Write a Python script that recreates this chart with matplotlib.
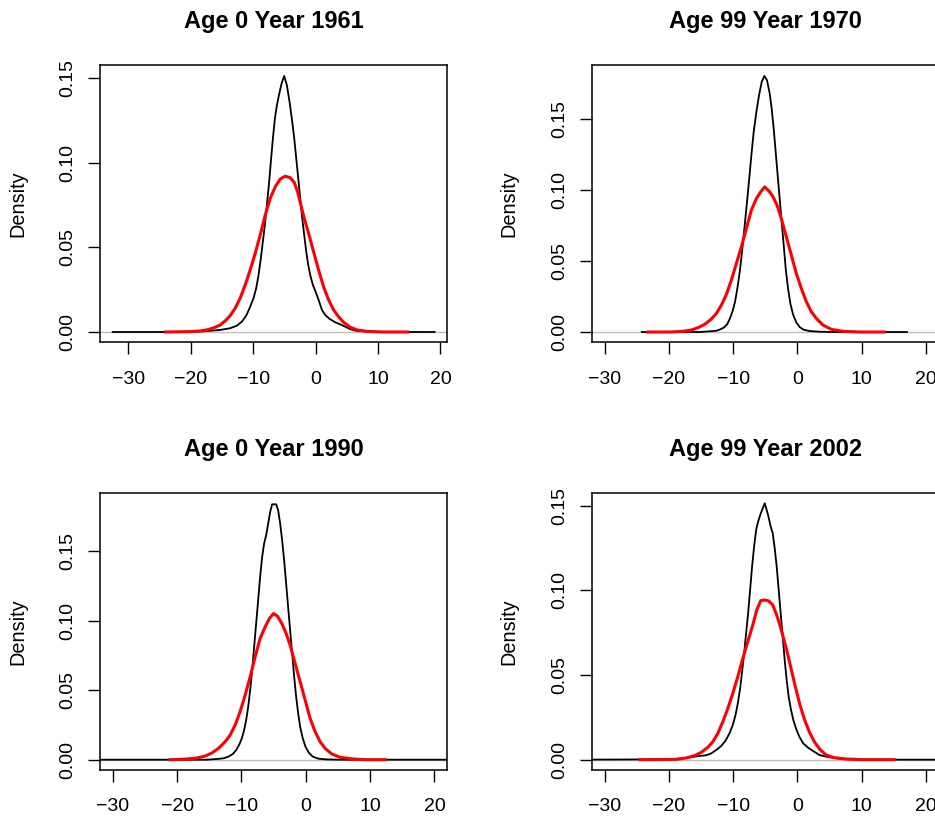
import matplotlib
matplotlib.use("Agg")
import matplotlib.pyplot as plt

plt.rcParams['font.family'] = ['Liberation Sans', 'DejaVu Sans']

titles = ["Age 0 Year 1961", "Age 99 Year 1970", "Age 0 Year 1990", "Age 99 Year 2002"]
x_ticks = [-30, -20, -10, 0, 10, 20]
x_tick_labels = ["\u221230", "\u221220", "\u221210", "0", "10", "20"]
y_ticks = [0.00, 0.05, 0.10, 0.15]
y_tick_labels = ["0.00", "0.05", "0.10", "0.15"]

# Panel 1: Age 0 Year 1961
p1_black_x = [-32.5, -22, -17.97, -15.29, -13.69, -12.62, -11.82, -11.12, -10.48, -9.95, -9.52, -9.14, -8.77,
              -8.45, -8.13, -7.81, -7.49, -7.17, -6.84, -6.52, -6.20, -5.88, -5.45, -5.03, -4.60, -4.17, -3.74,
              -3.42, -3.10, -2.78, -2.46, -2.14, -1.82, -1.50, -1.18, -0.86, -0.43, 0.0, 0.48, 1.02, 1.55, 2.25,
              3.16, 3.96, 4.76, 5.56, 6.63, 8.77, 12.0, 19.07]
p1_black_y = [0, 0, 0.0004, 0.0012, 0.0022, 0.0037, 0.0061, 0.0096, 0.0149, 0.0199, 0.0258, 0.0336, 0.0435,
              0.0533, 0.0631, 0.0749, 0.0867, 0.1005, 0.1143, 0.1261, 0.1339, 0.1398, 0.1467, 0.1512, 0.1457,
              0.1359, 0.1241, 0.1143, 0.1025, 0.0907, 0.0789, 0.0671, 0.0572, 0.0474, 0.0395, 0.0336, 0.0277,
              0.0238, 0.0189, 0.0130, 0.0100, 0.0077, 0.0057, 0.0045, 0.0031, 0.0016, 0.0006, 0.0002, 0, 0]
p1_red_x = [-24.0, -20.1, -18.5, -17.43, -16.36, -15.29, -14.49, -13.69, -12.89, -12.09, -11.28, -10.48, -9.68,
            -8.88, -8.07, -7.27, -6.47, -5.67, -4.87, -4.06, -3.42, -2.89, -2.35, -1.82, -1.12, -0.32, 0.48,
            1.28, 2.09, 2.89, 3.69, 4.49, 5.56, 6.63, 8.24, 10.37, 14.74]
p1_red_y = [0, 0.0002, 0.0006, 0.0012, 0.0024, 0.0041, 0.0065, 0.0096, 0.0140, 0.0199, 0.0277, 0.0366, 0.0464,
            0.0572, 0.0690, 0.0789, 0.0857, 0.0903, 0.0920, 0.0911, 0.0883, 0.0828, 0.0749, 0.0671, 0.0582,
            0.0474, 0.0366, 0.0267, 0.0189, 0.0130, 0.0090, 0.0057, 0.0028, 0.0012, 0.0004, 0, 0]

# Panel 2: Age 99 Year 1970
p2_black_x = [-24.2, -15.18, -13.63, -12.59, -11.97, -11.45, -10.93, -10.52, -10.10, -9.69, -9.33, -8.96,
              -8.60, -8.24, -7.88, -7.51, -7.15, -6.79, -6.37, -5.96, -5.54, -5.13, -4.72, -4.30, -3.99, -3.68,
              -3.37, -3.06, -2.75, -2.44, -2.12, -1.81, -1.45, -1.09, -0.67, -0.16, 0.36, 0.98, 1.92, 3.47,
              5.54, 17.05]
p2_black_y = [0, 0, 0.0005, 0.0009, 0.0019, 0.0031, 0.0054, 0.0092, 0.0143, 0.0214, 0.0308, 0.0425, 0.0566,
              0.0730, 0.0894, 0.1070, 0.1246, 0.1411, 0.1552, 0.1669, 0.1763, 0.1805, 0.1775, 0.1681, 0.1575,
              0.1434, 0.1270, 0.1106, 0.0941, 0.0777, 0.0613, 0.0448, 0.0308, 0.0202, 0.0124, 0.0068, 0.0035,
              0.0016, 0.0007, 0.0002, 0, 0]
p2_red_x = [-23.26, -19.84, -17.77, -16.48, -15.44, -14.40, -13.37, -12.59, -11.81, -11.04, -10.26, -9.48,
            -8.70, -7.93, -7.15, -6.37, -5.70, -5.08, -4.40, -3.78, -3.16, -2.49, -1.71, -0.93, -0.16, 0.62,
            1.40, 2.18, 2.95, 3.99, 5.28, 7.10, 9.69, 13.49]
p2_red_y = [0, 0, 0.0005, 0.0014, 0.0031, 0.0054, 0.0092, 0.0131, 0.0190, 0.0265, 0.0366, 0.0484, 0.0601,
            0.0730, 0.0859, 0.0941, 0.0988, 0.1023, 0.0993, 0.0953, 0.0894, 0.0800, 0.0671, 0.0542, 0.0413,
            0.0308, 0.0214, 0.0143, 0.0096, 0.0049, 0.0019, 0.0005, 0, 0]

# Panel 3: Age 0 Year 1990
p3_black_x = [-34, -15.39, -13.83, -12.80, -12.02, -11.35, -10.83, -10.31, -9.95, -9.59, -9.27, -8.96, -8.65,
              -8.34, -8.03, -7.72, -7.41, -7.10, -6.79, -6.48, -6.17, -5.85, -5.54, -5.23, -4.61, -4.30, -3.99,
              -3.68, -3.37, -3.06, -2.75, -2.44, -2.12, -1.81, -1.50, -1.19, -0.88, -0.47, -0.05, 0.47, 1.09,
              1.97, 3.26, 5.34, 24]
p3_black_y = [0, 0, 0.0005, 0.0010, 0.0022, 0.0041, 0.0069, 0.0112, 0.0153, 0.0213, 0.0285, 0.0380, 0.0500,
              0.0644, 0.0811, 0.0979, 0.1146, 0.1314, 0.1457, 0.1553, 0.1613, 0.1697, 0.1780, 0.1835, 0.1835,
              0.1792, 0.1697, 0.1577, 0.1433, 0.1266, 0.1098, 0.0931, 0.0763, 0.0596, 0.0452, 0.0333, 0.0237,
              0.0153, 0.0093, 0.0050, 0.0022, 0.0007, 0.0002, 0, 0]
p3_red_x = [-21.1, -20.57, -18.50, -16.94, -15.65, -14.61, -13.58, -12.54, -11.76, -10.98, -10.21, -9.43,
            -8.65, -7.88, -7.10, -6.32, -5.65, -5.03, -4.40, -3.73, -3.06, -2.44, -1.66, -0.88, -0.10, 0.67,
            1.45, 2.23, 3.01, 4.04, 5.34, 7.41, 9.48, 12.33]
p3_red_y = [0, 0, 0.0005, 0.0012, 0.0026, 0.0048, 0.0081, 0.0129, 0.0177, 0.0249, 0.0345, 0.0464, 0.0596,
            0.0739, 0.0871, 0.0955, 0.1015, 0.1050, 0.1031, 0.0979, 0.0907, 0.0823, 0.0692, 0.0560, 0.0428,
            0.0297, 0.0201, 0.0129, 0.0081, 0.0041, 0.0017, 0.0005, 0, 0]

# Panel 4: Age 99 Year 2002
p4_black_x = [-34, -19.87, -17.80, -16.24, -15.21, -14.17, -13.40, -12.62, -11.85, -11.17, -10.55, -10.04,
              -9.62, -9.26, -8.90, -8.59, -8.28, -7.97, -7.66, -7.35, -7.04, -6.73, -6.41, -6.10, -5.69, -5.07,
              -4.55, -4.14, -3.83, -3.52, -3.21, -2.90, -2.59, -2.28, -1.97, -1.66, -1.35, -0.98, -0.62, -0.21,
              0.31, 0.93, 1.60, 2.38, 3.41, 4.45, 6.05, 8.07, 10.14, 24]
p4_black_y = [0, 0.0002, 0.0008, 0.0016, 0.0022, 0.0026, 0.0037, 0.0057, 0.0081, 0.0112, 0.0156, 0.0205,
              0.0264, 0.0333, 0.0421, 0.0520, 0.0628, 0.0746, 0.0864, 0.1002, 0.1140, 0.1258, 0.1357, 0.1406,
              0.1455, 0.1514, 0.1445, 0.1376, 0.1337, 0.1248, 0.1140, 0.1002, 0.0864, 0.0727, 0.0589, 0.0471,
              0.0372, 0.0293, 0.0234, 0.0185, 0.0136, 0.0096, 0.0073, 0.0053, 0.0028, 0.0018, 0.0008, 0.0002,
              0, 0]
p4_red_x = [-24.5, -18.83, -17.28, -15.99, -14.95, -13.92, -13.14, -12.36, -11.59, -10.81, -10.04, -9.26,
            -8.48, -7.71, -6.93, -6.31, -5.69, -5.07, -4.45, -3.83, -3.31, -2.79, -2.28, -1.66, -0.98, -0.31,
            0.41, 1.14, 1.86, 2.64, 3.52, 4.45, 5.74, 7.55, 10.14, 15.05]
p4_red_y = [0, 0.0002, 0.0010, 0.0024, 0.0043, 0.0073, 0.0106, 0.0156, 0.0224, 0.0303, 0.0392, 0.0490,
            0.0599, 0.0697, 0.0795, 0.0884, 0.0939, 0.0943, 0.0937, 0.0914, 0.0864, 0.0805, 0.0736, 0.0648,
            0.0539, 0.0431, 0.0323, 0.0234, 0.0165, 0.0106, 0.0061, 0.0028, 0.0012, 0.0004, 0, 0]

x_limits = [(-34.54, 21.1), (-32, 22), (-32, 22), (-32, 22)]
y_limits = [(-0.0061, 0.1575), (-0.00725, 0.188), (-0.0074, 0.1914), (-0.0061, 0.1573)]

panels = [
    (p1_black_x, p1_black_y, p1_red_x, p1_red_y),
    (p2_black_x, p2_black_y, p2_red_x, p2_red_y),
    (p3_black_x, p3_black_y, p3_red_x, p3_red_y),
    (p4_black_x, p4_black_y, p4_red_x, p4_red_y),
]

W, H = 935, 817
fig = plt.figure(figsize=(W / 100, H / 100), dpi=100)

# axes boxes in pixels: left, top, right, bottom
boxes = [(100, 65.3, 447.3, 342.3), (591.7, 65.3, 938.7, 342.3),
         (100, 493.3, 447.3, 770), (591.7, 493.3, 938.7, 770)]

for i, (bx, by, rx, ry) in enumerate(panels):
    l, t, r, b = boxes[i]
    ax = fig.add_axes([l / W, 1 - b / H, (r - l) / W, (b - t) / H])
    ax.axhline(0, color="#BEBEBE", lw=1.0, zorder=1)
    ax.plot(bx, by, color="black", lw=1.3, zorder=2, solid_joinstyle="round")
    ax.plot(rx, ry, color="#FF0000", lw=2.2, zorder=3, solid_joinstyle="round")
    ax.set_xlim(*x_limits[i])
    ax.set_ylim(*y_limits[i])
    ax.set_xticks(x_ticks)
    ax.set_xticklabels(x_tick_labels)
    ax.set_yticks(y_ticks)
    ax.set_yticklabels(y_tick_labels, rotation=90, va="center")
    ax.tick_params(axis="both", direction="out", length=8.4, width=1.0, labelsize=14, color="black")
    ax.tick_params(axis="x", pad=12)
    ax.tick_params(axis="y", pad=8.5)
    for s in ax.spines.values():
        s.set_linewidth(1.1)
        s.set_color("black")
    ax.set_title(titles[i], fontsize=17, fontweight="bold", pad=27)
    ax.set_ylabel("Density", fontsize=14.3)
    ax.yaxis.set_label_coords(-73 / (r - l), 0.5)

fig.savefig("out.png", dpi=100)
